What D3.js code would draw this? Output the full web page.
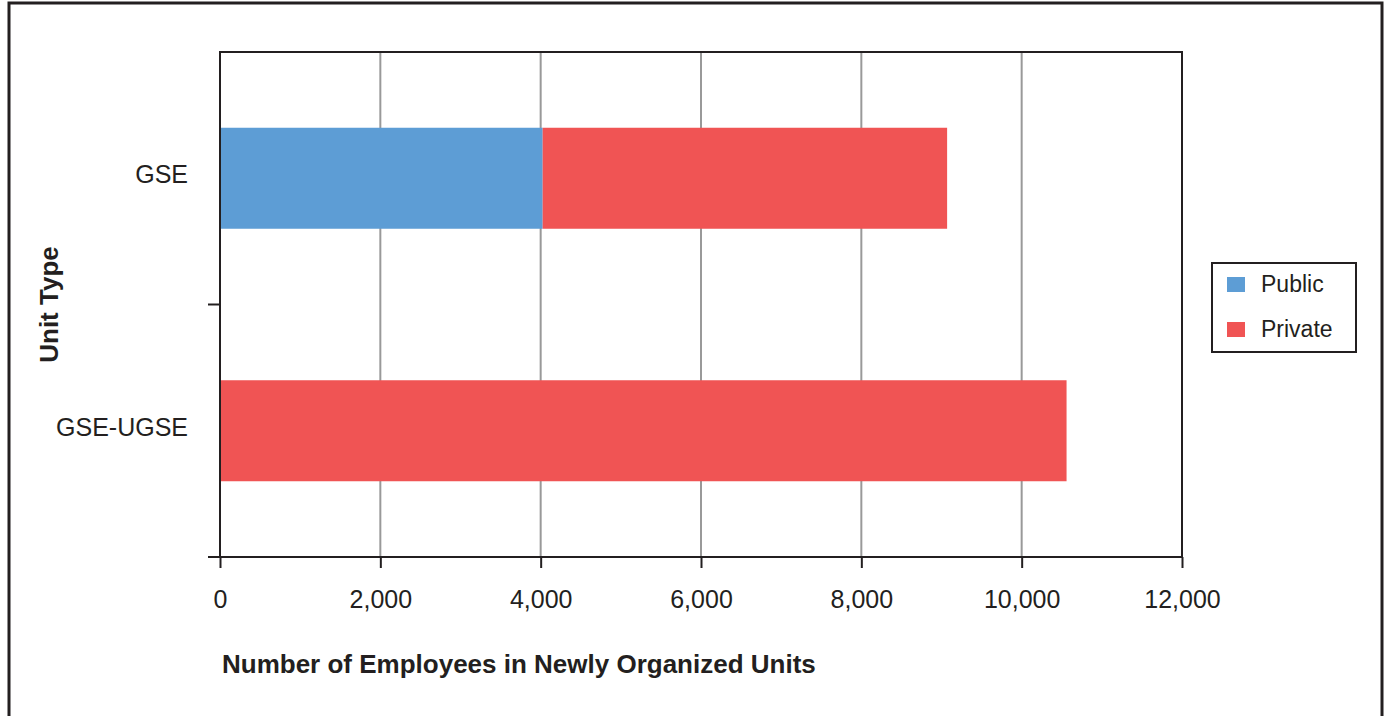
<!DOCTYPE html>
<html>
<head>
<meta charset="utf-8">
<script src="https://cdn.jsdelivr.net/npm/d3@7"></script>
<style>
  body { margin: 0; background: #fff; }
  text { font-family: "Liberation Sans", Arial, sans-serif; fill: #231f20; }
</style>
</head>
<body>
<div id="chart"></div>
<script>
// chart data
const categories = ['GSE', 'GSE-UGSE'];
const seriesNames = ['Public', 'Private'];
const publicValues = [4025, 0];
const privateValues = [5045, 10560];
const xTicks = [0, 2000, 4000, 6000, 8000, 10000, 12000];

const colors = { Public: '#5d9dd5', Private: '#f05454' };

const width = 1386;
const height = 716;
const margin = { top: 52, right: 204, bottom: 159, left: 220 };

const svg = d3.select('#chart').append('svg')
    .attr('width', width)
    .attr('height', height);

// outer frame
svg.append('rect')
    .attr('x', 9).attr('y', 3)
    .attr('width', 1373).attr('height', 730)
    .attr('fill', 'none')
    .attr('stroke', '#231f20')
    .attr('stroke-width', 3);

const x = d3.scaleLinear()
    .domain([0, 12000])
    .range([margin.left, width - margin.right]);

const y = d3.scaleBand()
    .domain(categories)
    .range([margin.top, height - margin.bottom])
    .paddingInner(0.6)
    .paddingOuter(0.3);

// build stacked rows
const rows = categories.map((c, i) => ({ cat: c, Public: publicValues[i], Private: privateValues[i] }));
const stacked = d3.stack().keys(seriesNames)(rows);

// gridlines
svg.append('g')
    .selectAll('line')
    .data(xTicks.slice(1, -1))
    .enter().append('line')
    .attr('x1', d => x(d)).attr('x2', d => x(d))
    .attr('y1', margin.top).attr('y2', height - margin.bottom)
    .attr('stroke', '#999')
    .attr('stroke-width', 2);

// bars
svg.append('g')
    .selectAll('g')
    .data(stacked)
    .enter().append('g')
    .attr('fill', d => colors[d.key])
    .selectAll('rect')
    .data(d => d)
    .enter().append('rect')
    .attr('x', d => x(d[0]))
    .attr('y', d => y(d.data.cat))
    .attr('width', d => x(d[1]) - x(d[0]))
    .attr('height', y.bandwidth());

// plot frame
svg.append('rect')
    .attr('x', margin.left).attr('y', margin.top)
    .attr('width', x(12000) - x(0))
    .attr('height', height - margin.bottom - margin.top)
    .attr('fill', 'none')
    .attr('stroke', '#231f20')
    .attr('stroke-width', 2);

// x axis
const xAxis = svg.append('g')
    .attr('transform', `translate(0,${height - margin.bottom})`)
    .call(d3.axisBottom(x).tickValues(xTicks).tickSize(11).tickPadding(22).tickFormat(d3.format(',')));
xAxis.select('.domain').remove();
xAxis.selectAll('line').attr('stroke', '#231f20').attr('stroke-width', 2);
xAxis.selectAll('text')
    .style('font-size', '25px')
    .attr('fill', '#231f20');

// y ticks at band boundaries
const boundaries = categories.slice(1).map((c, i) => margin.top + (i + 1) * y.step())
    .concat([height - margin.bottom]);
svg.append('g')
    .selectAll('line')
    .data(boundaries)
    .enter().append('line')
    .attr('x1', margin.left - 12).attr('x2', margin.left)
    .attr('y1', d => d).attr('y2', d => d)
    .attr('stroke', '#231f20')
    .attr('stroke-width', 2);

// category labels
svg.append('g')
    .selectAll('text')
    .data(categories)
    .enter().append('text')
    .attr('x', margin.left - 32)
    .attr('y', d => y(d) + y.bandwidth() / 2 - 4)
    .attr('dy', '0.35em')
    .attr('text-anchor', 'end')
    .style('font-size', '25px')
    .text(d => d);

// axis titles
svg.append('text')
    .attr('x', 222)
    .attr('y', 673)
    .style('font-size', '26px')
    .style('font-weight', 'bold')
    .text('Number of Employees in Newly Organized Units');

svg.append('text')
    .attr('transform', `translate(58,${(margin.top + height - margin.bottom) / 2}) rotate(-90)`)
    .attr('text-anchor', 'middle')
    .style('font-size', '26px')
    .style('font-weight', 'bold')
    .text('Unit Type');

// legend
const legend = svg.append('g').attr('transform', 'translate(1212,263)');
legend.append('rect')
    .attr('width', 144).attr('height', 89)
    .attr('fill', '#fff')
    .attr('stroke', '#231f20')
    .attr('stroke-width', 2);

const items = legend.selectAll('g.item')
    .data(seriesNames)
    .enter().append('g')
    .attr('class', 'item')
    .attr('transform', (d, i) => `translate(15,${14 + i * 45})`);
items.append('rect')
    .attr('width', 18).attr('height', 15)
    .attr('fill', d => colors[d]);
items.append('text')
    .attr('x', 34)
    .attr('y', 15)
    .style('font-size', '23px')
    .text(d => d);
</script>
</body>
</html>
